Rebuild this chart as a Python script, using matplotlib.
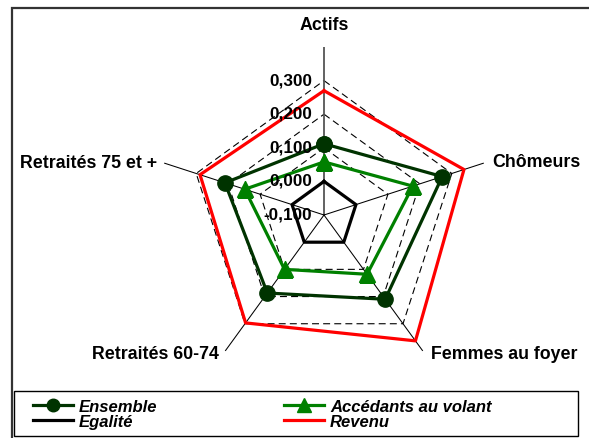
import numpy as np
import matplotlib
matplotlib.use('Agg')
import matplotlib.pyplot as plt
from matplotlib.lines import Line2D
from matplotlib.patches import Rectangle

categories = ['Actifs', 'Chômeurs', 'Femmes au foyer', 'Retraités 60-74', 'Retraités 75 et +']
ensemble = [0.112, 0.270, 0.210, 0.187, 0.210]
accedants = [0.058, 0.178, 0.118, 0.100, 0.148]
egalite = [0.0, 0.0, 0.0, 0.0, 0.0]
revenu = [0.270, 0.338, 0.363, 0.297, 0.288]
r_ticks = [-0.1, 0.0, 0.1, 0.2, 0.3]
tick_labels = ['-0,100', '0,000', '0,100', '0,200', '0,300']
grid_levels = [0.0, 0.1, 0.2, 0.3]
r_min, r_max = -0.1, 0.4

plt.rcParams['lines.scale_dashes'] = False
FONT = 'Liberation Sans'

W, H = 589, 439
fig = plt.figure(figsize=(W / 100, H / 100), dpi=100)
cx, cy, R = 324, 216, 168
ax = fig.add_axes([(cx - R) / W, (H - cy - R) / H, 2 * R / W, 2 * R / H], projection='polar')
ax.set_theta_offset(np.pi / 2)
ax.set_theta_direction(-1)
ax.set_ylim(r_min, r_max)
ax.grid(False)
ax.spines['polar'].set_visible(False)
ax.set_xticks([])
ax.set_yticks([])
ax.patch.set_visible(False)

n = len(categories)
theta = np.arange(n) * 2 * np.pi / n
theta_c = np.append(theta, theta[0])

def closed(v):
    return np.append(v, v[0])

# gridlines
for g in grid_levels:
    ax.plot(theta_c, [g] * (n + 1), color='black', lw=0.8, linestyle=(0, (5, 3)), zorder=1)
# spokes
for i, th in enumerate(theta):
    ax.plot([th, th], [r_min, r_max], color='#555555' if i == 0 else 'black',
            lw=1.3 if i == 0 else 0.75, zorder=1.5)

c_ens = '#003300'
c_acc = '#008000'
ax.plot(theta_c, closed(ensemble), color=c_ens, lw=2.3, marker='o', markersize=11,
        markerfacecolor=c_ens, markeredgecolor=c_ens, zorder=3)
ax.plot(theta_c, closed(accedants), color=c_acc, lw=2.3, marker='^', markersize=12,
        markerfacecolor=c_acc, markeredgecolor=c_acc, zorder=3)
ax.plot(theta_c, closed(egalite), color='black', lw=2.3, zorder=3)
ax.plot(theta_c, closed(revenu), color='#ff0000', lw=2.3, zorder=3)

# radial tick labels
for v, lbl in zip(r_ticks, tick_labels):
    ax.annotate(lbl, xy=(0, v), xytext=(-12, 1), textcoords='offset pixels',
                ha='right', va='center', fontsize=12.3, fontweight='bold', family=FONT,
                zorder=4, annotation_clip=False)

# category labels
offsets = [(0, 22, 'center'), (8, 2, 'left'), (8, -3, 'left'), (-6, -3, 'right'), (-7, 1, 'right')]
for th, cat, (dx, dy, ha) in zip(theta, categories, offsets):
    ax.annotate(cat, xy=(th, r_max), xytext=(dx, dy), textcoords='offset pixels',
                ha=ha, va='center', fontsize=12.8, fontweight='bold', family=FONT,
                annotation_clip=False)

# outer chart border
fig.add_artist(Rectangle((11.5 / W, -0.5), 2, 1.5 - 8.5 / H, fill=False,
                         lw=1.6, edgecolor='#333333', transform=fig.transFigure))
# legend frame
fig.add_artist(Rectangle((14 / W, 1 - 437 / H), (578 - 14) / W, (437 - 392) / H,
                         fill=False, lw=1.0, edgecolor='black', transform=fig.transFigure))

handles = [
    Line2D([], [], color=c_ens, lw=2.3, marker='o', markersize=9, markerfacecolor=c_ens),
    Line2D([], [], color='black', lw=2.3),
    Line2D([], [], color=c_acc, lw=2.3, marker='^', markersize=10, markerfacecolor=c_acc),
    Line2D([], [], color='#ff0000', lw=2.3),
]
labels = ['Ensemble', 'Egalité', 'Accédants au volant', 'Revenu']
fig.legend(handles, labels, ncol=2, loc='upper left', bbox_to_anchor=(33 / W, 1 - 400 / H),
           frameon=False, borderpad=0, borderaxespad=0, handlelength=2.4,
           handletextpad=0.36, columnspacing=7.6, labelspacing=0.0,
           prop=dict(family=FONT, weight='bold', style='italic', size=12))

fig.savefig('out.png', dpi=100)
